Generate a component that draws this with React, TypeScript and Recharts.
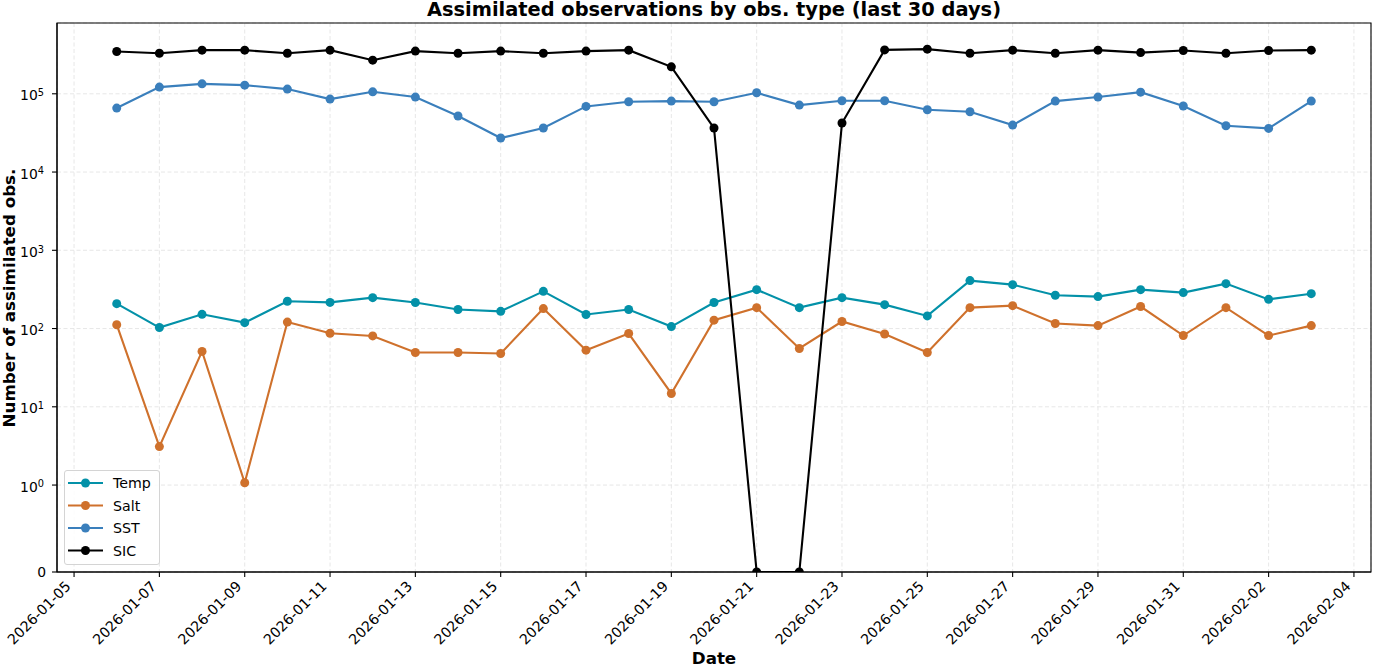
import React from 'react';
import { LineChart, Line, XAxis, YAxis, CartesianGrid, ReferenceArea } from 'recharts';

const dates = [
  '2026-01-06', '2026-01-07', '2026-01-08', '2026-01-09', '2026-01-10', '2026-01-11', '2026-01-12',
  '2026-01-13', '2026-01-14', '2026-01-15', '2026-01-16', '2026-01-17', '2026-01-18', '2026-01-19',
  '2026-01-20', '2026-01-21', '2026-01-22', '2026-01-23', '2026-01-24', '2026-01-25', '2026-01-26',
  '2026-01-27', '2026-01-28', '2026-01-29', '2026-01-30', '2026-01-31', '2026-02-01', '2026-02-02',
  '2026-02-03',
];

const temp = [208, 103, 152, 119, 223, 216, 248, 215, 175, 166, 299, 151, 175, 106, 215, 314, 185, 248, 202, 145, 410, 364, 266, 256, 314, 288, 375, 236, 279];
const salt = [112, 3.1, 51, 1.07, 121, 87, 80.5, 49.4, 49.4, 48, 180, 52.9, 86.3, 14.8, 128, 185, 55.6, 123, 85.3, 49.4, 185, 196, 116, 109, 191, 81.4, 185, 81.4, 109];
const sst = [65700, 121700, 134000, 129000, 114800, 85500, 106000, 90800, 52000, 27200, 36500, 69000, 79000, 80600, 79000, 103000, 71700, 81400, 81400, 62500, 58900, 39800, 80600, 90800, 105000, 69700, 39000, 36100, 80600];
const sic = [347000, 330000, 361000, 361000, 330000, 361000, 269000, 351000, 330000, 351000, 330000, 351000, 361000, 221000, 36500, 0, 0, 42300, 364000, 372000, 330000, 361000, 330000, 361000, 336000, 357000, 330000, 357000, 361000];

const xTickLabels = [
  '2026-01-05', '2026-01-07', '2026-01-09', '2026-01-11', '2026-01-13', '2026-01-15', '2026-01-17',
  '2026-01-19', '2026-01-21', '2026-01-23', '2026-01-25', '2026-01-27', '2026-01-29', '2026-01-31',
  '2026-02-02', '2026-02-04',
];
const yTickValues = [0, 1, 10, 100, 1000, 10000, 100000];

const seriesNames = ['Temp', 'Salt', 'SST', 'SIC'];
const seriesColors = ['#0391a8', '#cf712c', '#3a7fbc', '#000000'];

const FONT = '"DejaVu Sans", Verdana, sans-serif';
const LINSCALE = 1 / (1 - 1 / 10);

// matplotlib-style symlog transform (linthresh = 1, linscale = 1)
const symlog = (v: number) => (Math.abs(v) <= 1 ? v * LINSCALE : Math.sign(v) * (LINSCALE + Math.log10(Math.abs(v))));
const dayNum = (s: string) => Date.parse(s + 'T00:00:00Z') / 86400000;
const dayStr = (n: number) => new Date(Math.round(n) * 86400000).toISOString().slice(0, 10);

const allSeries = [temp, salt, sst, sic];
const data = dates.map((d, i) => ({
  x: dayNum(d),
  Temp: symlog(temp[i]),
  Salt: symlog(salt[i]),
  SST: symlog(sst[i]),
  SIC: symlog(sic[i]),
}));

const x0 = dayNum(dates[0]);
const x1 = dayNum(dates[dates.length - 1]);
const xPad = (x1 - x0) * 0.05;
const xDomain: [number, number] = [x0 - xPad, x1 + xPad];
const xTicks = xTickLabels.map(dayNum);

const yMaxData = Math.max(...allSeries.map((s) => Math.max(...s.map(symlog))));
const yDomain: [number, number] = [0, yMaxData * 1.05];
const yTicks = yTickValues.map(symlog);

const XTick = (props: any) => {
  const { x, payload } = props;
  const ex = x - 2.3;
  const ey = 587.2;
  return (
    <text x={ex} y={ey} transform={`rotate(-45 ${ex} ${ey})`} textAnchor="end" fontFamily={FONT} fontSize={14.2} fill="#000">
      {dayStr(payload.value)}
    </text>
  );
};

const YTick = (props: any) => {
  const { y, payload } = props;
  const idx = yTicks.findIndex((t) => Math.abs(t - payload.value) < 1e-9);
  const v = yTickValues[idx];
  if (v === 0) {
    return (
      <text x={46} y={y + 5} textAnchor="end" fontFamily={FONT} fontSize={13.9} fill="#000">0</text>
    );
  }
  const k = Math.round(Math.log10(v));
  return (
    <text x={44} y={y + 6.6} textAnchor="end" fontFamily={FONT} fontSize={13.9} fill="#000">
      <tspan>10</tspan>
      <tspan fontSize={9.8} dy={-4.3}>{String(k)}</tspan>
    </text>
  );
};

const LegendBox = () => (
  <div
    style={{
      position: 'absolute',
      left: 64,
      top: 470,
      width: 96,
      height: 95,
      border: '1px solid #d4d4d4',
      borderRadius: 3,
      background: 'rgba(255,255,255,0.85)',
      boxSizing: 'border-box',
    }}
  >
    <svg width={96} height={95} style={{ display: 'block', position: 'absolute', left: -1, top: -1 }}>
      {seriesNames.map((n, i) => {
        const cy = 13 + i * 22.5;
        return (
          <g key={n}>
            <line x1={4} x2={39} y1={cy} y2={cy} stroke={seriesColors[i]} strokeWidth={2.1} />
            <circle cx={21.5} cy={cy} r={4.5} fill={seriesColors[i]} />
            <text x={49} y={cy + 5} fontFamily={FONT} fontSize={14.2} fill="#000">{n}</text>
          </g>
        );
      })}
    </svg>
  </div>
);

export default function App() {
  return (
    <div style={{ position: 'absolute', left: 0, top: 0, width: 1373, height: 667, background: '#fff' }}>
      <LineChart
        width={1373}
        height={667}
        data={data}
        margin={{ top: 23, right: 2, bottom: 0, left: 0 }}
      >
        <CartesianGrid stroke="#e4e4e4" strokeDasharray="4 2.5" strokeWidth={0.9} />
        <XAxis
          dataKey="x"
          type="number"
          domain={xDomain}
          ticks={xTicks}
          allowDataOverflow
          interval={0}
          height={95}
          tickSize={5}
          tickMargin={3}
          tick={<XTick />}
          axisLine={{ stroke: '#000', strokeWidth: 1.1 }}
          tickLine={{ stroke: '#000', strokeWidth: 1.1 }}
        />
        <YAxis
          type="number"
          domain={yDomain}
          ticks={yTicks}
          allowDataOverflow
          interval={0}
          width={57}
          tickSize={5}
          tickMargin={3}
          tick={<YTick />}
          axisLine={{ stroke: '#000', strokeWidth: 1.1 }}
          tickLine={{ stroke: '#000', strokeWidth: 1.1 }}
        />
        <ReferenceArea
          x1={xDomain[0]}
          x2={xDomain[1]}
          y1={yDomain[0]}
          y2={yDomain[1]}
          fill="none"
          fillOpacity={0}
          stroke="#000"
          strokeWidth={1.1}
          ifOverflow="extendDomain"
        />
        {seriesNames.map((n, i) => (
          <Line
            key={n}
            dataKey={n}
            name={n}
            stroke={seriesColors[i]}
            strokeWidth={2.1}
            dot={{ r: 4.5, fill: seriesColors[i], stroke: seriesColors[i], strokeWidth: 0 }}
            activeDot={false}
            isAnimationActive={false}
          />
        ))}
      </LineChart>
      <LegendBox />
      <svg
        width={1373}
        height={667}
        style={{ position: 'absolute', left: 0, top: 0, pointerEvents: 'none' }}
      >
        <text x={714} y={16} textAnchor="middle" fontFamily={FONT} fontWeight="bold" fontSize={19.4} fill="#000">
          Assimilated observations by obs. type (last 30 days)
        </text>
        <text x={714} y={664} textAnchor="middle" fontFamily={FONT} fontWeight="bold" fontSize={16.7} fill="#000">
          Date
        </text>
        <text
          x={14.5}
          y={298}
          transform="rotate(-90 14.5 298)"
          textAnchor="middle"
          fontFamily={FONT}
          fontWeight="bold"
          fontSize={16.7}
          fill="#000"
        >
          Number of assimilated obs.
        </text>
      </svg>
    </div>
  );
}
